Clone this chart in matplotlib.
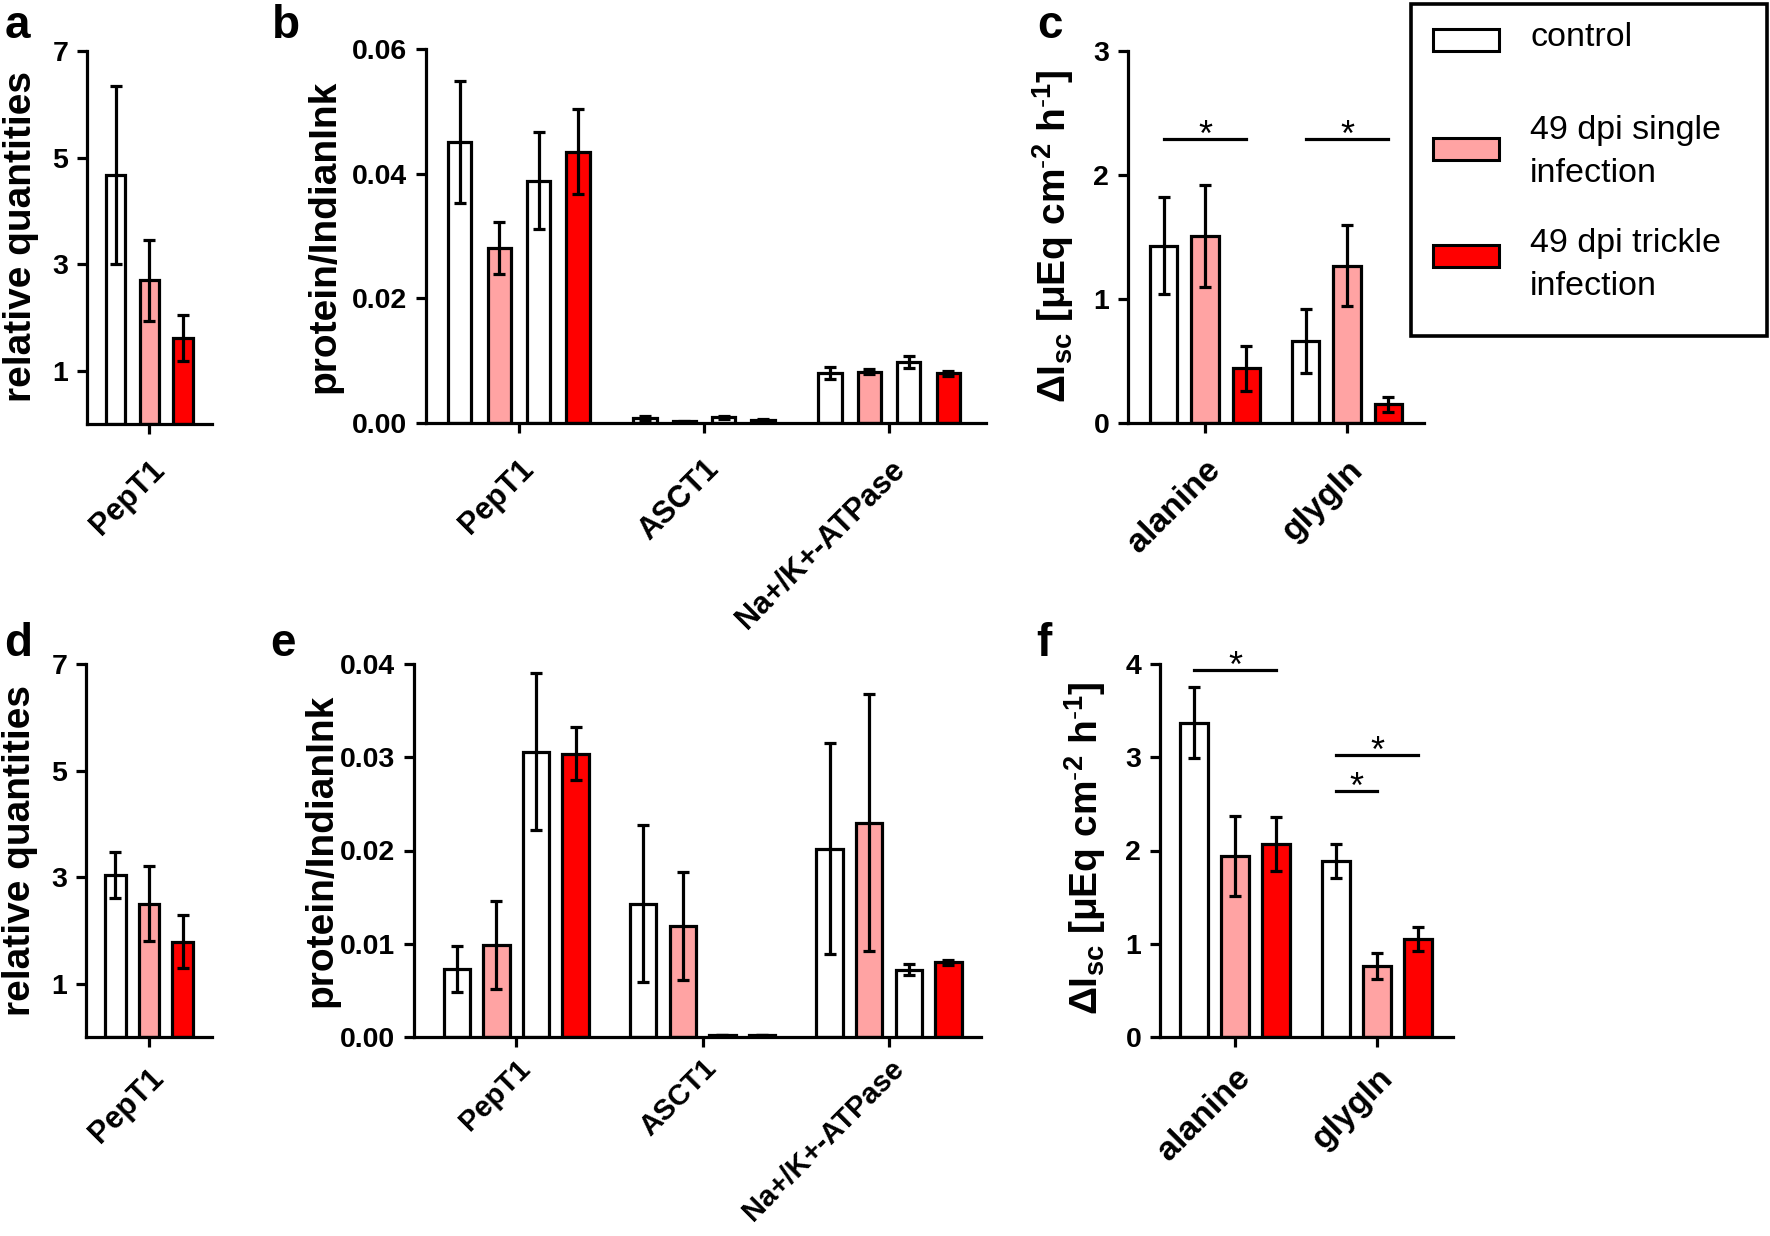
import matplotlib
matplotlib.use('Agg')
import matplotlib.pyplot as plt
import matplotlib.transforms as mtransforms
from matplotlib import font_manager
import numpy as np
from matplotlib.patches import Rectangle

plt.rcParams['font.family'] = ['Liberation Sans', 'DejaVu Sans']
plt.rcParams['mathtext.fontset'] = 'custom'
plt.rcParams['mathtext.rm'] = 'Liberation Sans'
plt.rcParams['mathtext.it'] = 'Liberation Sans:italic'
plt.rcParams['mathtext.bf'] = 'Liberation Sans:bold'
plt.rcParams['mathtext.default'] = 'regular'

_names = {f.name for f in font_manager.fontManager.ttflist}
if 'Liberation Sans Narrow' in _names:
    TICKFAM, TICKFS = ['Liberation Sans Narrow', 'Liberation Sans'], 24
else:
    TICKFAM, TICKFS = ['Liberation Sans', 'DejaVu Sans'], 20.5

# ---------------- data ----------------
legend_labels = ['control', '49 dpi single\ninfection', '49 dpi trickle\ninfection']
c_white, c_pink, c_red = '#FFFFFF', '#FFA3A3', '#FF0000'

# panel a  (series x category)
a_cats = ['PepT1']
a_vals = [[4.67], [2.70], [1.62]]
a_errs = [[1.67], [0.76], [0.43]]

# panel b
b_cats = ['PepT1', 'ASCT1', 'Na+/K+-ATPase']
b_vals = [[0.0451, 0.0008, 0.0080],
          [0.0281, 0.0003, 0.0082],
          [0.0389, 0.0009, 0.0098],
          [0.0435, 0.0005, 0.0080]]
b_errs = [[0.0098, 0.0004, 0.0010],
          [0.0042, 0.0001, 0.0004],
          [0.0078, 0.0003, 0.0010],
          [0.0068, 0.0002, 0.0004]]

# panel c
c_cats = ['alanine', 'glygln']
c_vals = [[1.43, 0.66], [1.51, 1.27], [0.44, 0.15]]
c_errs = [[0.39, 0.26], [0.41, 0.33], [0.18, 0.06]]
c_sig = [(0, 0, 2, 2.29), (1, 0, 2, 2.29)]  # (category, from series, to series, y)

# panel d
d_cats = ['PepT1']
d_vals = [[3.04], [2.50], [1.79]]
d_errs = [[0.44], [0.70], [0.50]]

# panel e
e_cats = ['PepT1', 'ASCT1', 'Na+/K+-ATPase']
e_vals = [[0.0073, 0.0143, 0.0202],
          [0.0099, 0.0119, 0.0230],
          [0.0306, 0.0002, 0.0072],
          [0.0304, 0.0002, 0.0080]]
e_errs = [[0.0025, 0.0084, 0.0113],
          [0.0047, 0.0058, 0.0138],
          [0.0084, 0.0000, 0.0006],
          [0.0028, 0.0000, 0.0003]]

# panel f
f_cats = ['alanine', 'glygln']
f_vals = [[3.37, 1.89], [1.94, 0.76], [2.07, 1.05]]
f_errs = [[0.38, 0.18], [0.43, 0.14], [0.29, 0.13]]
f_sig = [(0, 0, 2, 3.94), (1, 0, 2, 3.02), (1, 0, 1, 2.64)]

# ---------------- style ----------------
W, H = 1770, 1236
DPI = 100
LW = 2.3
CAP = 4.6
YLFS = 28
PANELFS = 33

fig = plt.figure(figsize=(W / DPI, H / DPI), dpi=DPI)
shift = mtransforms.ScaledTranslation(-6 / DPI, 0, fig.dpi_scale_trans)


def ax_at(l, r, t, b):
    return fig.add_axes([l / W, 1 - b / H, (r - l) / W, (b - t) / H])


def draw(ax, cats, vals, errs, cols, gap, width, xlim, ylim, yticks, ylabels,
         xfs, xpad):
    n = len(cols)
    offs = np.arange(n) - (n - 1) / 2
    centers = np.arange(len(cats)) * gap
    for i in range(n):
        x = centers + offs[i]
        ax.bar(x, vals[i], width, color=cols[i], edgecolor='black',
               linewidth=LW, zorder=2)
        ax.errorbar(x, vals[i], yerr=errs[i], fmt='none', ecolor='black',
                    elinewidth=LW, capsize=CAP, capthick=LW, zorder=3)
    ax.set_xlim(*xlim)
    ax.set_ylim(*ylim)
    ax.set_yticks(yticks)
    ax.set_yticklabels(ylabels, fontsize=TICKFS, fontweight='bold', family=TICKFAM)
    ax.set_xticks(centers)
    ax.set_xticklabels(cats, fontsize=xfs, fontweight='bold', rotation=45,
                       ha='right', va='top', rotation_mode='anchor')
    for lab in ax.get_xticklabels():
        lab.set_transform(lab.get_transform() + shift)
    for s in ['top', 'right']:
        ax.spines[s].set_visible(False)
    for s in ['left', 'bottom']:
        ax.spines[s].set_linewidth(LW)
    ax.tick_params(axis='both', direction='out', length=7.5, width=LW)
    ax.tick_params(axis='y', pad=6)
    ax.tick_params(axis='x', pad=xpad)
    ax.set_facecolor('none')
    return centers, offs


def sig(ax, centers, offs, items):
    for (g, s1, s2, y) in items:
        x1 = centers[g] + offs[s1]
        x2 = centers[g] + offs[s2]
        ax.plot([x1, x2], [y, y], color='black', lw=LW, clip_on=False, zorder=4)
        ax.annotate('*', xy=((x1 + x2) / 2, y), xytext=(0, -5),
                    textcoords='offset points', ha='center', va='baseline',
                    fontsize=26, annotation_clip=False)


three = [c_white, c_pink, c_red]
four = [c_white, c_pink, c_white, c_red]

axa = ax_at(87, 212, 51, 424)
draw(axa, a_cats, a_vals, a_errs, three, 1.0, 0.58, (-1.85, 1.86), (0, 7),
     [1, 3, 5, 7], ['1', '3', '5', '7'], 22, 15)

axb = ax_at(426, 986, 49, 423)
draw(axb, b_cats, b_vals, b_errs, four, 4.7, 0.59, (-2.36, 11.86), (0, 0.06),
     [0, 0.02, 0.04, 0.06], ['0.00', '0.02', '0.04', '0.06'], 22, 15)

axc = ax_at(1128, 1424, 51, 423)
cc, co = draw(axc, c_cats, c_vals, c_errs, three, 3.44, 0.66, (-1.87, 5.31), (0, 3),
              [0, 1, 2, 3], ['0', '1', '2', '3'], 24.5, 15)
sig(axc, cc, co, c_sig)

axd = ax_at(86, 212, 664, 1037)
draw(axd, d_cats, d_vals, d_errs, three, 1.0, 0.6, (-1.88, 1.88), (0, 7),
     [1, 3, 5, 7], ['1', '3', '5', '7'], 22, 11)

axe = ax_at(414, 981, 664, 1037)
draw(axe, e_cats, e_vals, e_errs, four, 4.7, 0.67, (-2.58, 11.72), (0, 0.04),
     [0, 0.01, 0.02, 0.03, 0.04], ['0.00', '0.01', '0.02', '0.03', '0.04'], 21, 5)

axf = ax_at(1160, 1453, 664, 1037)
fc, fo = draw(axf, f_cats, f_vals, f_errs, three, 3.46, 0.68, (-1.83, 5.31), (0, 4),
              [0, 1, 2, 3, 4], ['0', '1', '2', '3', '4'], 24.5, 11)
sig(axf, fc, fo, f_sig)


def ftext(x, y, s, **kw):
    fig.text(x / W, 1 - y / H, s, **kw)


# panel letters
for letter, (x, y) in zip('abcdef', [(5, 38), (272, 38), (1037, 38),
                                     (4, 656), (270, 656), (1036, 656)]):
    ftext(x, y, letter, fontsize=PANELFS, fontweight='bold', ha='left', va='baseline')

# y labels
isc = r'$\Delta$I$_{sc}$ [μEq cm$^{\text{-}2}$ h$^{\text{-}1}$]'
for (x, y, s) in [(21, 237, 'relative quantities'),
                  (324, 236, 'protein/IndianInk'),
                  (1053, 236, isc),
                  (20, 850, 'relative quantities'),
                  (321, 850, 'protein/IndianInk'),
                  (1085, 848, isc)]:
    ftext(x, y, s, fontsize=YLFS, fontweight='bold', rotation=90,
          ha='center', va='center')

# legend (drawn in its own axes, pixel units)
lx0, lx1, ly0, ly1 = 1409, 1768, 2, 337
lax = fig.add_axes([lx0 / W, 1 - ly1 / H, (lx1 - lx0) / W, (ly1 - ly0) / H])
lax.set_xlim(lx0, lx1)
lax.set_ylim(ly1, ly0)
lax.axis('off')
lax.add_patch(Rectangle((lx0 + 1.5, ly0 + 1.5), lx1 - lx0 - 3, ly1 - ly0 - 3,
                        fill=False, lw=2.6, edgecolor='black', clip_on=False))
for i, (lab, col) in enumerate(zip(legend_labels, three)):
    yc = [40, 148.5, 255.5][i]
    lax.add_patch(Rectangle((1433, yc - 11), 66, 22, facecolor=col,
                            edgecolor='black', lw=2.2))
    ty = [38, 152, 265][i]
    lax.text(1530, ty, lab, fontsize=24.5, ha='left', va='center',
             linespacing=1.5)

fig.savefig('out.png', dpi=DPI)
